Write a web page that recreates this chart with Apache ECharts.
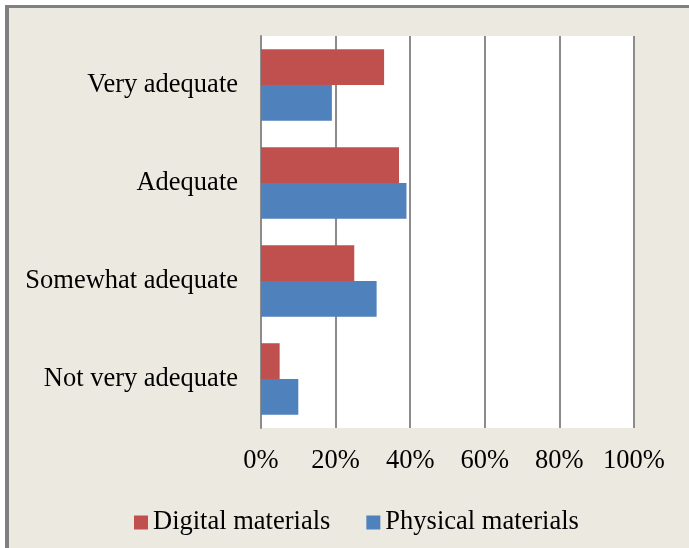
<!DOCTYPE html>
<html>
<head>
<meta charset="utf-8">
<script src="https://cdn.jsdelivr.net/npm/echarts@6/dist/echarts.min.js"></script>
<style>
  html, body { margin: 0; padding: 0; background: #ffffff; }
  #frame {
    position: absolute; left: 5px; top: 5px; width: 680px; height: 540px;
    background: #ECEAE0; border-left: 4px solid #808080; border-top: 3px solid #808080;
  }
  #chart { position: absolute; left: -9px; top: -8px; width: 689px; height: 548px; }
</style>
</head>
<body>
<div id="frame"><div id="chart"></div></div>
<script>
// Survey categories, listed bottom to top for the horizontal bar axis
const categories = ['Not very adequate', 'Somewhat adequate', 'Adequate', 'Very adequate'];
// Share of respondents (%) per category
const digitalMaterials = [5, 25, 37, 33];
const physicalMaterials = [10, 31, 39, 19];
const xTicks = [0, 20, 40, 60, 80, 100];

const font = '"Liberation Serif", "Times New Roman", serif';
const chart = echarts.init(document.getElementById('chart'), null, { renderer: 'canvas' });
chart.setOption({
  backgroundColor: 'transparent',
  animation: false,
  grid: { left: 261, right: 55, top: 36, bottom: 120, containLabel: false,
          show: true, backgroundColor: '#ffffff', borderWidth: 0 },
  xAxis: {
    type: 'value', min: xTicks[0], max: xTicks[xTicks.length - 1], interval: 20,
    axisLine: { show: false }, axisTick: { show: false },
    splitLine: { show: true, lineStyle: { color: '#8c8c8c', width: 2 } },
    axisLabel: { formatter: v => v + '%', color: '#000', fontFamily: font, fontSize: 26.5, margin: 20 }
  },
  yAxis: {
    type: 'category', data: categories,
    axisLine: { show: true, lineStyle: { color: '#8c8c8c', width: 2 } },
    axisTick: { show: false },
    axisLabel: { color: '#000', fontFamily: font, fontSize: 26.5, margin: 23, padding: [4, 0, 0, 0] }
  },
  legend: {
    bottom: 7, left: 129, itemWidth: 14, itemHeight: 14, itemGap: 36,
    icon: 'rect',
    textStyle: { color: '#000', fontFamily: font, fontSize: 26.5 },
    data: ['Digital materials', 'Physical materials']
  },
  series: [
    { name: 'Digital materials', type: 'bar', data: digitalMaterials, barCategoryGap: '27%', barGap: '0%',
      itemStyle: { color: '#C0504D' } },
    { name: 'Physical materials', type: 'bar', data: physicalMaterials, barCategoryGap: '27%', barGap: '0%',
      itemStyle: { color: '#4F81BD' } }
  ]
});
</script>
</body>
</html>
